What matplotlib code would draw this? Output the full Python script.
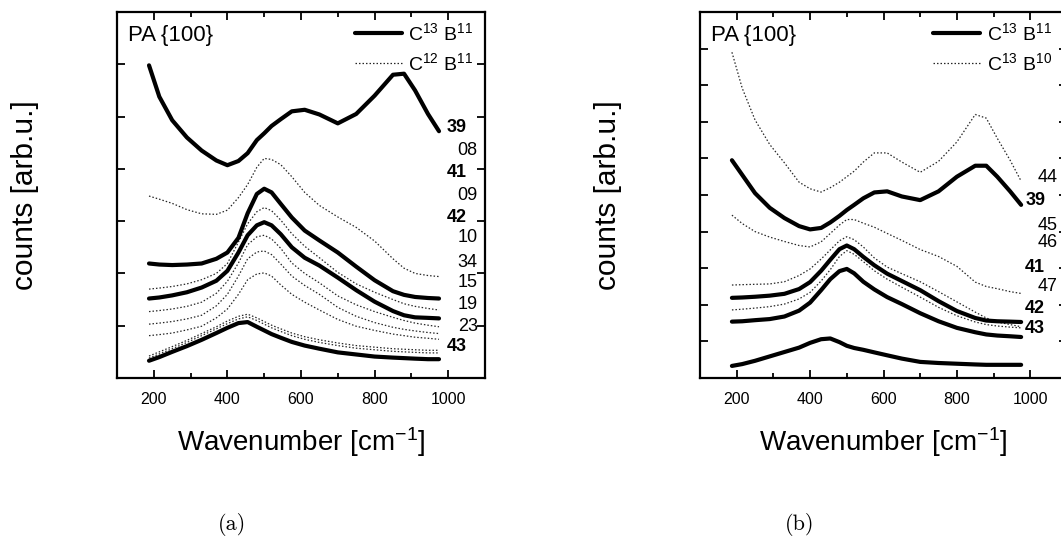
import matplotlib
matplotlib.use('Agg')
import matplotlib.pyplot as plt
from matplotlib.ticker import MultipleLocator

plt.rcParams['font.family'] = ['Liberation Sans', 'DejaVu Sans']
plt.rcParams['mathtext.fontset'] = 'custom'
plt.rcParams['mathtext.rm'] = 'Liberation Sans'
plt.rcParams['mathtext.it'] = 'Liberation Sans:italic'
plt.rcParams['mathtext.bf'] = 'Liberation Sans:bold'

# wavenumber grid shared by all traces [cm^-1]
wavenumber = [187, 215, 250, 290, 330, 370, 400, 430, 455, 480, 500, 520,
              545, 575, 610, 650, 700, 750, 800, 850, 880, 910, 945, 975]

# panel (a): C13 B11 (solid) and C12 B11 (dotted), offset traces
a_39 = [5.98, 5.38, 4.93, 4.60, 4.35, 4.16, 4.07, 4.15, 4.30, 4.55, 4.68, 4.82,
        4.95, 5.10, 5.13, 5.04, 4.87, 5.05, 5.40, 5.80, 5.82, 5.50, 5.05, 4.72]
a_08 = [3.48, 3.42, 3.34, 3.22, 3.14, 3.13, 3.21, 3.45, 3.70, 4.03, 4.20, 4.18,
        4.08, 3.85, 3.55, 3.30, 3.08, 2.88, 2.62, 2.28, 2.10, 2.00, 1.96, 1.94]
a_41 = [2.19, 2.17, 2.16, 2.17, 2.19, 2.28, 2.40, 2.68, 3.15, 3.52, 3.62, 3.55,
        3.33, 3.07, 2.82, 2.63, 2.40, 2.13, 1.87, 1.66, 1.59, 1.55, 1.53, 1.52]
a_09 = [1.70, 1.72, 1.75, 1.80, 1.88, 2.00, 2.19, 2.60, 2.95, 3.18, 3.26, 3.20,
        3.02, 2.76, 2.52, 2.30, 2.02, 1.80, 1.64, 1.50, 1.42, 1.37, 1.33, 1.30]
a_42 = [1.52, 1.54, 1.58, 1.64, 1.73, 1.86, 2.05, 2.40, 2.73, 2.92, 2.98, 2.92,
        2.75, 2.50, 2.30, 2.15, 1.92, 1.68, 1.46, 1.28, 1.20, 1.16, 1.15, 1.14]
a_10 = [1.27, 1.29, 1.32, 1.37, 1.45, 1.62, 1.85, 2.20, 2.55, 2.70, 2.73, 2.66,
        2.48, 2.20, 2.00, 1.82, 1.57, 1.40, 1.27, 1.16, 1.10, 1.05, 1.01, 0.98]
a_34 = [1.03, 1.05, 1.08, 1.13, 1.20, 1.38, 1.60, 1.95, 2.28, 2.41, 2.43, 2.36,
        2.18, 1.95, 1.77, 1.60, 1.35, 1.18, 1.06, 0.97, 0.93, 0.90, 0.87, 0.85]
a_15 = [0.81, 0.83, 0.86, 0.92, 0.99, 1.15, 1.32, 1.60, 1.88, 1.99, 2.01, 1.95,
        1.78, 1.60, 1.45, 1.30, 1.12, 0.99, 0.91, 0.84, 0.81, 0.78, 0.76, 0.74]
a_19 = [0.42, 0.50, 0.60, 0.72, 0.85, 0.98, 1.09, 1.18, 1.22, 1.15, 1.08, 1.01,
        0.94, 0.86, 0.79, 0.73, 0.67, 0.62, 0.59, 0.56, 0.55, 0.54, 0.53, 0.53]
a_23 = [0.38, 0.46, 0.56, 0.68, 0.81, 0.94, 1.04, 1.13, 1.17, 1.10, 1.03, 0.96,
        0.89, 0.81, 0.74, 0.68, 0.62, 0.57, 0.54, 0.51, 0.50, 0.49, 0.48, 0.48]
a_43 = [0.33, 0.40, 0.50, 0.61, 0.73, 0.86, 0.96, 1.05, 1.07, 0.98, 0.91, 0.84,
        0.77, 0.69, 0.62, 0.56, 0.49, 0.45, 0.41, 0.39, 0.38, 0.37, 0.36, 0.36]

# panel (b): C13 B11 (solid) and C13 B10 (dotted)
b_44 = [8.90, 7.92, 7.05, 6.38, 5.88, 5.35, 5.17, 5.08, 5.20, 5.35, 5.50, 5.65,
        5.90, 6.15, 6.15, 5.90, 5.62, 5.92, 6.45, 7.20, 7.10, 6.55, 5.95, 5.38]
b_39 = [5.95, 5.55, 5.05, 4.65, 4.37, 4.15, 4.06, 4.10, 4.25, 4.43, 4.59, 4.73,
        4.91, 5.07, 5.10, 4.96, 4.86, 5.10, 5.50, 5.80, 5.80, 5.50, 5.10, 4.73]
b_45 = [4.45, 4.22, 4.00, 3.85, 3.73, 3.62, 3.58, 3.72, 3.95, 4.18, 4.33, 4.33,
        4.23, 4.12, 3.95, 3.76, 3.51, 3.32, 3.05, 2.62, 2.50, 2.44, 2.36, 2.31]
b_46 = [2.54, 2.55, 2.56, 2.57, 2.63, 2.80, 2.98, 3.25, 3.50, 3.75, 3.86, 3.78,
        3.58, 3.28, 3.03, 2.85, 2.63, 2.36, 2.08, 1.80, 1.64, 1.53, 1.46, 1.40]
b_41 = [2.19, 2.20, 2.22, 2.25, 2.30, 2.43, 2.62, 2.93, 3.23, 3.52, 3.62, 3.52,
        3.31, 3.08, 2.85, 2.65, 2.40, 2.10, 1.83, 1.64, 1.57, 1.55, 1.54, 1.53]
b_47 = [1.86, 1.88, 1.91, 1.95, 2.02, 2.16, 2.34, 2.65, 2.96, 3.32, 3.48, 3.38,
        3.18, 2.93, 2.70, 2.48, 2.21, 1.93, 1.70, 1.53, 1.46, 1.42, 1.39, 1.37]
b_42 = [1.54, 1.55, 1.58, 1.61, 1.68, 1.84, 2.06, 2.40, 2.70, 2.92, 2.98, 2.86,
        2.63, 2.42, 2.21, 2.02, 1.77, 1.55, 1.37, 1.25, 1.19, 1.16, 1.14, 1.12]
b_43 = [0.33, 0.38, 0.47, 0.59, 0.71, 0.83, 0.96, 1.06, 1.08, 0.98, 0.88, 0.82,
        0.77, 0.70, 0.62, 0.53, 0.44, 0.41, 0.39, 0.37, 0.36, 0.36, 0.36, 0.36]

a_solid = [a_39, a_41, a_42, a_43]
a_dotted = [a_08, a_09, a_10, a_34, a_15, a_19, a_23]
b_solid = [b_39, b_41, b_42, b_43]
b_dotted = [b_44, b_45, b_46, b_47]

# sample labels at the right edge: text, y, bold
a_labels = ['39', '08', '41', '09', '42', '10', '34', '15', '19', '23', '43']
a_label_y = [4.80, 4.36, 3.93, 3.50, 3.07, 2.68, 2.21, 1.83, 1.40, 0.98, 0.61]
a_label_bold = [True, False, True, False, True, False, False, False, False, False, True]
b_labels = ['44', '39', '45', '46', '41', '47', '42', '43']
b_label_y = [5.49, 4.86, 4.18, 3.69, 3.03, 2.49, 1.91, 1.34]
b_label_bold = [False, True, False, False, True, False, True, True]

legend_a = [r'C$^{13}$ B$^{11}$', r'C$^{12}$ B$^{11}$']
legend_b = [r'C$^{13}$ B$^{11}$', r'C$^{13}$ B$^{10}$']

fig = plt.figure(figsize=(10.61, 5.43), dpi=100)
ax_a = fig.add_axes([117 / 1061, 165 / 543, 368 / 1061, 366 / 543])
ax_b = fig.add_axes([700 / 1061, 165 / 543, 367 / 1061, 366 / 543])


def draw_panel(ax, solid, dotted, ymax, labels, label_y, label_bold, legend_txt, right_side, leg_x):
    hs = None
    hd = None
    for tr in dotted:
        hd, = ax.plot(wavenumber, tr, color='0.15', lw=0.9, linestyle=(0, (1.2, 1.6)))
    for tr in solid:
        hs, = ax.plot(wavenumber, tr, color='black', lw=3.0, solid_capstyle='round')
    ax.set_xlim(100, 1100)
    ax.set_ylim(0, ymax)
    ax.set_xticks([200, 400, 600, 800, 1000])
    ax.xaxis.set_minor_locator(MultipleLocator(100))
    ax.set_yticks(range(1, ymax))
    ax.tick_params(which='both', direction='in', top=True, right=True,
                   labelleft=False, width=1.3, labelsize=11.5, pad=10)
    ax.tick_params(which='major', length=6)
    ax.tick_params(which='minor', length=3.5)
    for s in ax.spines.values():
        s.set_linewidth(1.6)
    ax.set_xlabel(r'Wavenumber [cm$^{\mathregular{-1}}$]', fontsize=20, labelpad=13)
    ax.set_ylabel('counts [arb.u.]', fontsize=21.5, labelpad=56)
    ax.text(0.03, 0.937, 'PA {100}', transform=ax.transAxes, va='center', fontsize=16)
    ax.legend([hs, hd], legend_txt, loc='upper right', bbox_to_anchor=(leg_x, 1.0),
              frameon=False, fontsize=14, handlelength=2.4, handletextpad=0.35,
              labelspacing=0.45, borderaxespad=0.3, borderpad=0.2)
    for t, y, b in zip(labels, label_y, label_bold):
        w = 'bold' if b else 'normal'
        if right_side:
            x = 986 if b else 1019
            ax.text(x, y, t, ha='left', va='center', fontsize=13, fontweight=w)
        else:
            x = 1050 if b else 1080
            ax.text(x, y, t, ha='right', va='center', fontsize=13, fontweight=w)


draw_panel(ax_a, a_solid, a_dotted, 7, a_labels, a_label_y, a_label_bold, legend_a, False, 0.995)
draw_panel(ax_b, b_solid, b_dotted, 10, b_labels, b_label_y, b_label_bold, legend_b, True, 0.985)

fig.text(232 / 1061, 1 - 524 / 543, '(a)', ha='center', va='center', fontsize=16, family='cmr10')
fig.text(800 / 1061, 1 - 524 / 543, '(b)', ha='center', va='center', fontsize=16, family='cmr10')

fig.savefig('out.png', dpi=100)
